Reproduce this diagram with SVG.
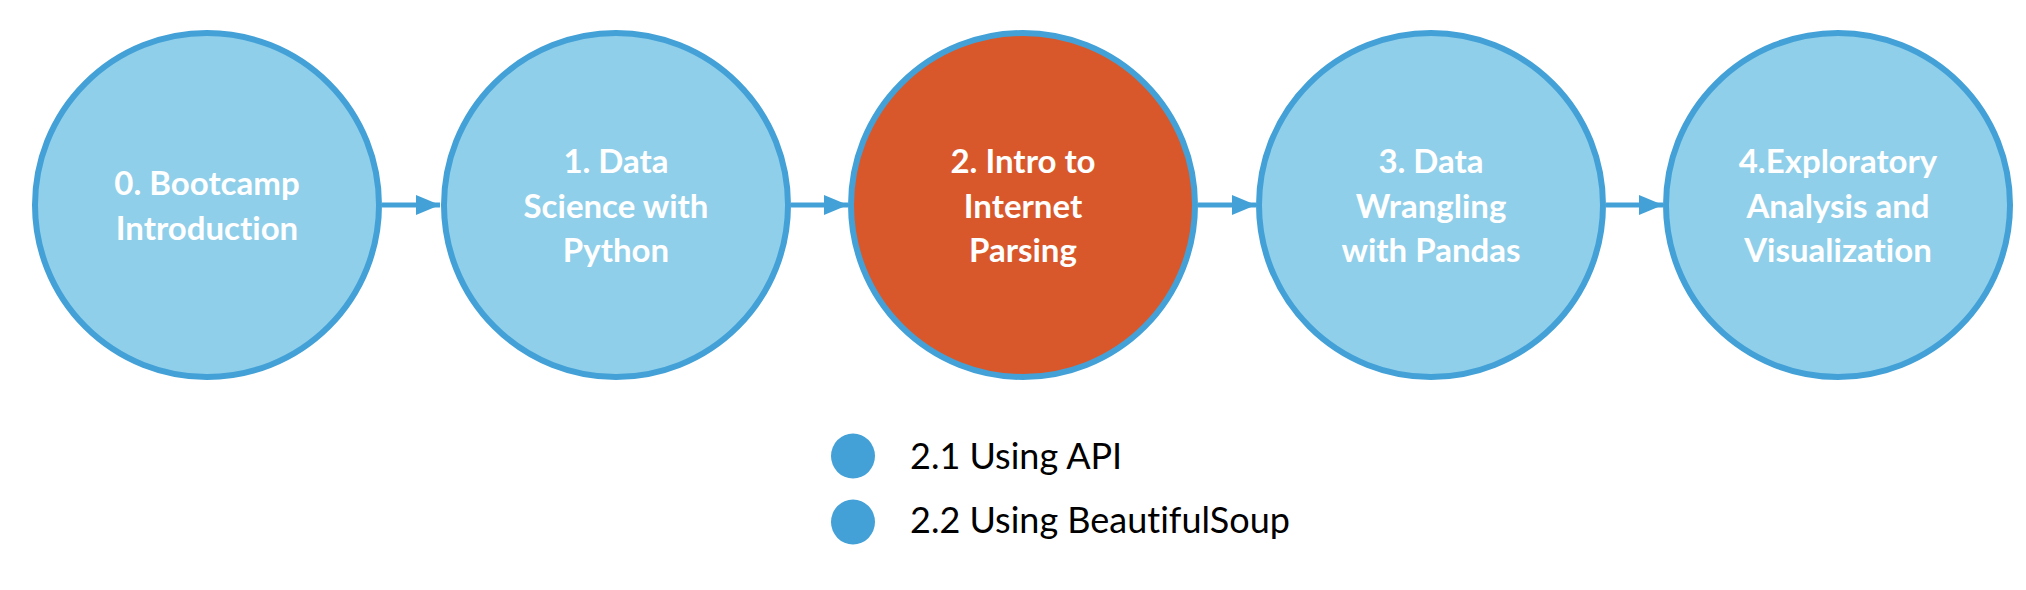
<svg xmlns="http://www.w3.org/2000/svg" width="2026" height="590" viewBox="0 0 2026 590">
<style>
.node{fill:#90CFEA;stroke:#43A1D7;stroke-width:6}
.hl{fill:#D8582B}
.lbl{font-family:Lato,"Liberation Sans",sans-serif;font-weight:bold;font-size:33px;fill:#FFFFFF;text-anchor:middle;font-variant-ligatures:none}
.conn{stroke:#43A1D7;stroke-width:5;fill:none}
.dot{fill:#43A1D7}
.leg{font-family:Lato,"Liberation Sans",sans-serif;font-size:36px;fill:#000000;font-variant-ligatures:none}
</style>
<defs>
<marker id="ah" markerWidth="24" markerHeight="20" refX="24" refY="10" orient="auto" markerUnits="userSpaceOnUse">
<path d="M0,0 L24,10 L0,20 Z" fill="#43A1D7"/>
</marker>
</defs>
<g id="connectors">
<line class="conn" x1="382" y1="205" x2="440" y2="205" marker-end="url(#ah)"/>
<line class="conn" x1="791" y1="205" x2="848" y2="205" marker-end="url(#ah)"/>
<line class="conn" x1="1198" y1="205" x2="1256" y2="205" marker-end="url(#ah)"/>
<line class="conn" x1="1606" y1="205" x2="1663" y2="205" marker-end="url(#ah)"/>
</g>
<g id="node0">
<circle class="node" cx="207" cy="205" r="172"/>
<text class="lbl" x="207" y="195">0. Bootcamp</text>
<text class="lbl" x="207" y="240">Introduction</text>
</g>
<g id="node1">
<circle class="node" cx="616" cy="205" r="172"/>
<text class="lbl" x="616" y="173">1. Data</text>
<text class="lbl" x="616" y="218">Science with</text>
<text class="lbl" x="616" y="262">Python</text>
</g>
<g id="node2">
<circle class="node hl" cx="1023" cy="205" r="172"/>
<text class="lbl" x="1023" y="173">2. Intro to</text>
<text class="lbl" x="1023" y="218">Internet</text>
<text class="lbl" x="1023" y="262">Parsing</text>
</g>
<g id="node3">
<circle class="node" cx="1431" cy="205" r="172"/>
<text class="lbl" x="1431" y="173">3. Data</text>
<text class="lbl" x="1431" y="218">Wrangling</text>
<text class="lbl" x="1431" y="262">with Pandas</text>
</g>
<g id="node4">
<circle class="node" cx="1838" cy="205" r="172"/>
<text class="lbl" x="1838" y="173">4.Exploratory</text>
<text class="lbl" x="1838" y="218">Analysis and</text>
<text class="lbl" x="1838" y="262">Visualization</text>
</g>
<g id="legend">
<ellipse class="dot" cx="853" cy="456" rx="22" ry="22.5"/>
<text class="leg" x="910" y="469">2.1 Using API</text>
<ellipse class="dot" cx="853" cy="522" rx="22" ry="22.5"/>
<text class="leg" x="910" y="533">2.2 Using BeautifulSoup</text>
</g>
</svg>
